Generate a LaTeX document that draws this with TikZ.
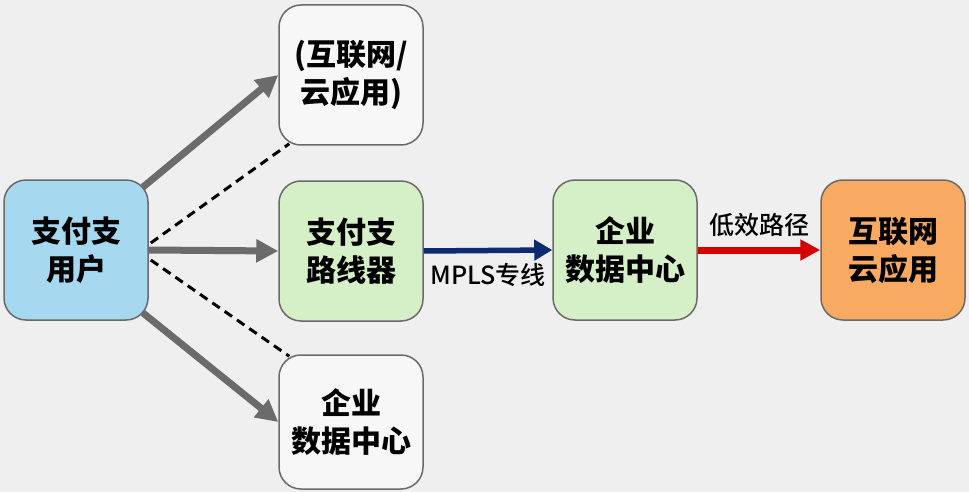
\documentclass[tikz,border=0pt]{standalone}
\usepackage{fontspec}
\setmainfont{Noto Sans CJK SC}
\newfontfamily\tagfont{Noto Sans CJK SC Medium}
\usetikzlibrary{arrows.meta,calc}
\definecolor{bggray}{HTML}{EFEFEF}
\definecolor{boxline}{HTML}{6A6A6A}
\definecolor{boxwhite}{HTML}{F7F7F7}
\definecolor{userblue}{HTML}{A6D8F0}
\definecolor{routegreen}{HTML}{D5F0C6}
\definecolor{cloudorange}{HTML}{F8AA62}
\definecolor{flowgray}{HTML}{6B6B6B}
\definecolor{mplsnavy}{HTML}{0C2B70}
\definecolor{slowred}{HTML}{D50000}
\tikzstyle{box}=[draw=boxline,line width=1.5pt,rounded corners=22pt,minimum width=144pt,inner sep=0pt,align=center,font=\fontsize{30pt}{38pt}\selectfont\bfseries]
\tikzstyle{flow}=[draw=flowgray,line width=7pt,-{Triangle[length=22pt,width=22pt]}]
\tikzstyle{hint}=[draw=black,line width=3pt,dash pattern=on 9pt off 6pt]
\tikzstyle{mpls}=[draw=mplsnavy,line width=5.5pt,-{Triangle[length=18pt,width=20pt]}]
\tikzstyle{slow}=[draw=slowred,line width=7pt,-{Triangle[length=20pt,width=20pt]}]
\tikzstyle{tag}=[font=\fontsize{25pt}{28pt}\selectfont\tagfont]

\begin{document}
\begin{tikzpicture}[x=1pt,y=-1pt]
    \fill[bggray] (0,0) rectangle (969,492);
    \useasboundingbox (0,0) rectangle (969,492);
    % First we draw the boxes
    \foreach \pos/\name/\col/\h/\txt in {{(76,250)/user/userblue/140/{支付支\\用户}},
        {(351,75)/top/boxwhite/140/{(互联网/\\云应用)}},
        {(351,251)/router/routegreen/140/{支付支\\路线器}},
        {(351,422)/bottom/boxwhite/134/{企业\\数据中心}},
        {(625,250)/dc/routegreen/140/{企业\\数据中心}},
        {(893,250)/cloud/cloudorange/140/{互联网\\云应用}}}
        \node[box,fill=\col,minimum height=\h pt] (\name) at \pos {\txt};
    % Connect the user to the three targets
    \path[flow] (user.east) -- (router.west);
    \path[flow] ($(user.north east)+(-6,8)$) -- (top.west);
    \path[flow] ($(user.south east)+(-6,-8)$) -- (bottom.west);
    \path[hint] ($(user.east)+(2,-7)$) -- ($(top.south west)+(11,-2)$);
    \path[hint] ($(user.east)+(2,10)$) -- ($(bottom.north west)+(11,2)$);
    % Private line and detour
    \path[mpls] (router.east) -- node[tag,yshift=-24pt] {MPLS专线} (dc.west);
    \path[slow] (dc.east) -- node[tag,yshift=25pt] {低效路径} (cloud.west);
\end{tikzpicture}
\end{document}
